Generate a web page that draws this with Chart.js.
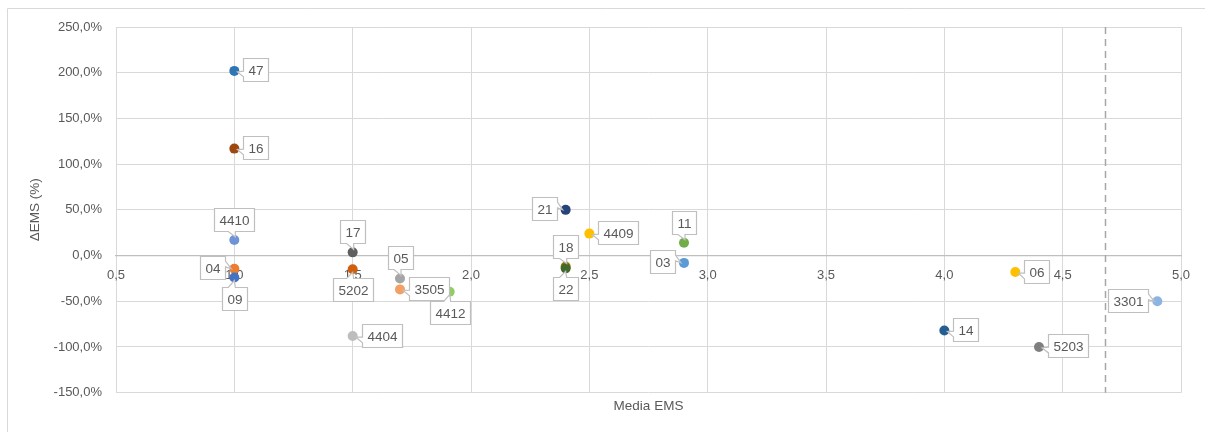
<!DOCTYPE html>
<html><head><meta charset="utf-8">
<script src="https://cdn.jsdelivr.net/npm/chart.js@4"></script>
<style>html,body{margin:0;padding:0;background:#fff}canvas{display:block}</style>
</head><body>
<canvas id="c" width="1205" height="432"></canvas>
<script>
// ---- data ----
const pointLabels = ['47','16','4410','04','09','17','5202','05','3505','4412','4404','21','4409','18','22','11','03','06','3301','14','5203'];
const mediaEMS    = [1.0, 1.0, 1.0, 1.0, 1.0, 1.5, 1.5, 1.7, 1.7, 1.91, 1.5, 2.4, 2.5, 2.4, 2.4, 2.9, 2.9, 4.3, 4.9, 4.0, 4.4];
const deltaEMS    = [202, 117, 17, -14.5, -24, 3.5, -15, -25, -37, -39.5, -88, 50, 24, -12, -14, 14, -8, -18, -50, -82, -100];
const pointColors = ['#2E75B6','#9E480E','#6F93D6','#ED7D31','#4472C4','#5F5F5F','#D0600F','#A5A5A5','#F4A064','#92CC64','#BDBDBD','#264478','#FFC000','#A07800','#43682B','#70AD47','#5B9BD5','#FFC000','#8CB4E2','#255E91','#7F7F7F'];
const labelSide   = ['right','right','above','left','below','above','below','above','right','below','right','left','right','above','below','above','left','right','left','right','right'];
const thresholdX = 4.68;
const xTitle = 'Media EMS';
const yTitle = 'ΔEMS (%)';

const FONT = '"Liberation Sans", Arial, sans-serif';
const TXT = '#595959';

const points = mediaEMS.map((x, i) => ({x: x, y: deltaEMS[i]}));

function callout(ctx, px, py, side, text) {
  ctx.font = '13.5px ' + FONT;
  const tw = ctx.measureText(text).width;
  const w = Math.round(tw + 10), h = 23, gap = 9;
  let bx, by;
  if (side === 'right') { bx = px + gap; by = py - h / 2 - 1; }
  else if (side === 'left') { bx = px - gap - w; by = py - h / 2 - 1; }
  else if (side === 'above') { bx = px - w / 2; by = py - gap - h; }
  else { bx = px - w / 2; by = py + gap; }
  bx = Math.round(bx) + 0.5; by = Math.round(by) + 0.5;
  const L = bx, R = bx + w, T = by, B = by + h;
  ctx.beginPath();
  if (side === 'right') {
    const tx = px + 3, ty = py + 1;
    ctx.moveTo(L, T); ctx.lineTo(R, T); ctx.lineTo(R, B); ctx.lineTo(L, B);
    ctx.lineTo(L, B - h * 0.2); ctx.lineTo(tx, ty); ctx.lineTo(L, B - h * 0.45); ctx.closePath();
  } else if (side === 'left') {
    const tx = px - 3, ty = py;
    ctx.moveTo(L, T); ctx.lineTo(R, T); ctx.lineTo(R, T + h * 0.2); ctx.lineTo(tx, ty);
    ctx.lineTo(R, T + h * 0.45); ctx.lineTo(R, B); ctx.lineTo(L, B); ctx.closePath();
  } else if (side === 'above') {
    const tx = px + 1, ty = py - 3;
    ctx.moveTo(L, T); ctx.lineTo(R, T); ctx.lineTo(R, B); ctx.lineTo(px + 1, B);
    ctx.lineTo(tx, ty); ctx.lineTo(px - 6, B); ctx.lineTo(L, B); ctx.closePath();
  } else {
    const tx = px, ty = py + 3;
    ctx.moveTo(L, T); ctx.lineTo(px - 6, T); ctx.lineTo(tx, ty); ctx.lineTo(px + 1, T);
    ctx.lineTo(R, T); ctx.lineTo(R, B); ctx.lineTo(L, B); ctx.closePath();
  }
  ctx.fillStyle = '#fff';
  ctx.fill();
  ctx.strokeStyle = '#BFBFBF';
  ctx.lineWidth = 1.2;
  ctx.stroke();
  ctx.fillStyle = TXT;
  ctx.textAlign = 'center';
  ctx.textBaseline = 'middle';
  ctx.fillText(text, (L + R) / 2, (T + B) / 2 + 1);
}

const decor = {
  id: 'decor',
  beforeDraw(chart) {
    const ctx = chart.ctx;
    ctx.save();
    ctx.strokeStyle = '#D9D9D9';
    ctx.lineWidth = 1;
    ctx.beginPath();
    ctx.moveTo(7.5, 432); ctx.lineTo(7.5, 8.5); ctx.lineTo(1205, 8.5);
    ctx.stroke();
    ctx.restore();
  },
  beforeDatasetsDraw(chart) {
    const ctx = chart.ctx, a = chart.chartArea;
    const x = Math.round(chart.scales.x.getPixelForValue(thresholdX)) + 0.5;
    ctx.save();
    ctx.strokeStyle = '#A6A6A6';
    ctx.lineWidth = 1.5;
    ctx.setLineDash([7, 5]);
    ctx.beginPath();
    ctx.moveTo(x, a.top); ctx.lineTo(x, a.bottom);
    ctx.stroke();
    ctx.restore();
  },
  afterDatasetsDraw(chart) {
    const ctx = chart.ctx;
    const meta = chart.getDatasetMeta(0);
    ctx.save();
    meta.data.forEach((el, i) => {
      callout(ctx, el.x, el.y, labelSide[i], pointLabels[i]);
    });
    ctx.restore();
  }
};

new Chart(document.getElementById('c'), {
  type: 'scatter',
  data: {
    datasets: [{
      data: points,
      backgroundColor: pointColors,
      borderColor: pointColors,
      pointRadius: 5,
      pointHoverRadius: 5,
      borderWidth: 0
    }]
  },
  plugins: [decor],
  options: {
    responsive: false,
    animation: false,
    events: [],
    layout: { padding: { left: 0, right: 24, top: 27, bottom: 0 } },
    plugins: { legend: { display: false }, tooltip: { enabled: false } },
    scales: {
      x: {
        type: 'linear',
        position: { y: 0 },
        min: 0.5, max: 5.0,
        grid: { color: '#D9D9D9', lineWidth: 1, drawTicks: false },
        border: { display: true, color: '#BFBFBF', width: 1.3 },
        ticks: {
          stepSize: 0.5, padding: 12, color: TXT,
          font: { family: FONT, size: 13 },
          callback: v => v.toFixed(1).replace('.', ',')
        }
      },
      x2: {
        type: 'linear',
        position: 'bottom',
        min: 0.5, max: 5.0,
        grid: { display: false, drawTicks: false },
        border: { display: false },
        ticks: { display: false },
        title: { display: true, text: xTitle, color: TXT, font: { family: FONT, size: 13.5 }, padding: { top: 0, bottom: 18 } },
        afterFit(s) { s.height = 39.3; }
      },
      y: {
        type: 'linear',
        position: 'left',
        min: -150, max: 250,
        grid: { color: '#D9D9D9', lineWidth: 1, drawTicks: false },
        border: { display: false },
        ticks: {
          stepSize: 50, padding: 14, color: TXT,
          font: { family: FONT, size: 13 },
          callback: v => v.toFixed(1).replace('.', ',') + '%'
        },
        title: { display: true, text: yTitle, color: TXT, font: { family: FONT, size: 13.5 }, padding: { top: 27, bottom: 0 } },
        afterFit(s) { s.width = 116; }
      }
    }
  }
});
</script>
</body></html>
